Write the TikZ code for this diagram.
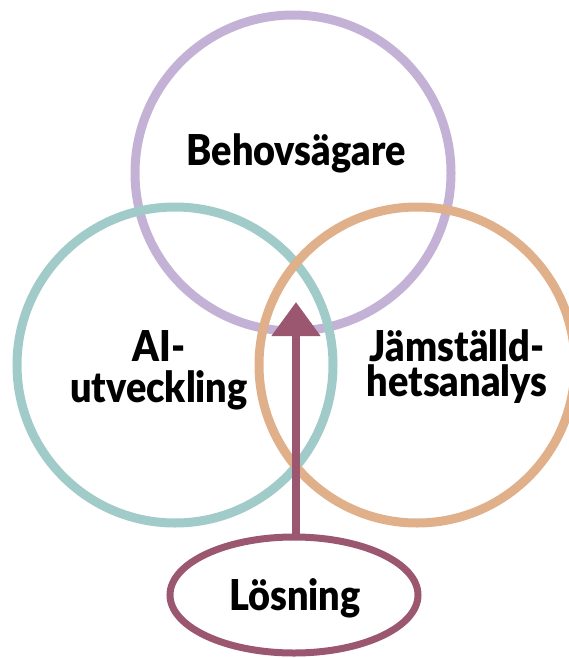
\documentclass[tikz,border=0pt]{standalone}
\usepackage{fontspec}
\setmainfont{Lato}[BoldFont={Lato Black},BoldFeatures={FakeStretch=0.89}]
\usetikzlibrary{shapes.geometric,arrows.meta}
\definecolor{cpurple}{RGB}{195,178,214}
\definecolor{cteal}{RGB}{160,203,201}
\definecolor{corange}{RGB}{224,176,138}
\definecolor{cmaroon}{RGB}{155,87,111}
\begin{document}
\begin{tikzpicture}[x=1pt,y=-1pt,
  ring/.style={circle,draw=#1,line width=9pt,minimum size=316pt,inner sep=0pt},
  lbl/.style={font=\bfseries\fontsize{42.5}{#1}\selectfont,align=center,anchor=base,inner sep=0pt,text=black},
  solution/.style={ellipse,draw=cmaroon,line width=7pt,minimum width=248pt,minimum height=116pt,inner sep=0pt}]
\clip (0,0) rectangle (569,658);
\node[ring=cpurple] (beh) at (293,173) {};
\node[ring=cteal] (ai) at (175,365) {};
\node[ring=corange] (jam) at (417,365) {};
\node[lbl=41] (tbeh) at (296,165) {Behovsägare};
\node[lbl=41] (tai) at (159,402) {AI-\\utveckling};
\node[lbl=35] (tjam) at (457,396) {Jämställd-\\hetsanalys};
\node[solution] (sol) at (294,595) {};
\node[lbl=41] (tsol) at (295,610) {Lösning};
\coordinate (tip) at (296,302);
\draw[cmaroon,line width=8pt,-{Triangle[length=34pt,width=47pt]}] (sol.north -| tip) -- (tip);
\end{tikzpicture}
\end{document}
